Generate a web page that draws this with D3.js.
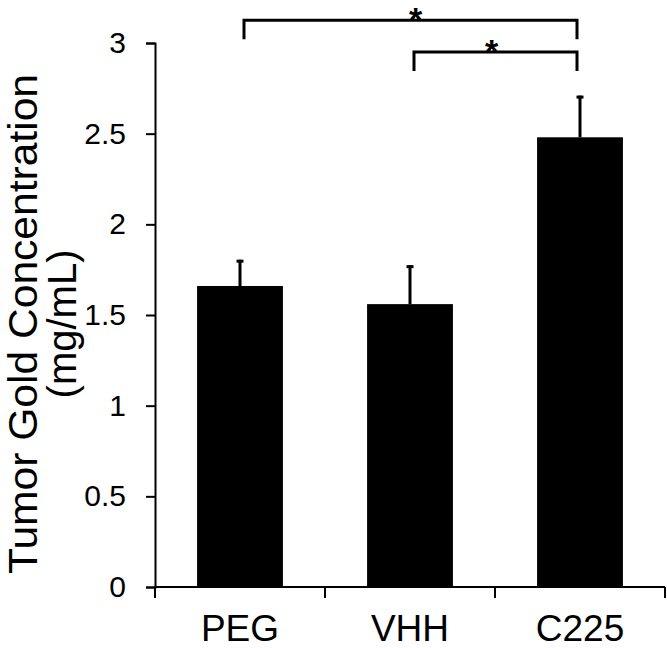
<!DOCTYPE html>
<html>
<head>
<meta charset="utf-8">
<script src="https://cdn.jsdelivr.net/npm/d3@7"></script>
<style>
  html, body { margin: 0; padding: 0; background: #fff; }
  svg { display: block; font-family: "Liberation Sans", Arial, sans-serif; }
</style>
</head>
<body>
<div id="chart"></div>
<script>
const categories = ['PEG', 'VHH', 'C225'];
const means = [1.66, 1.56, 2.48];
const errors = [0.145, 0.215, 0.23];
const yTicks = [0, 0.5, 1, 1.5, 2, 2.5, 3];
// significance brackets: pair of groups, height of the bar in data units
const sigPairs = [['PEG', 'C225'], ['VHH', 'C225']];
const sigLevels = [3.125, 2.95];
const sigLabels = ['*', '*'];

const width = 667;
const height = 648;

const svg = d3.select('#chart')
  .append('svg')
  .attr('width', width)
  .attr('height', height);

const x = d3.scaleBand()
  .domain(categories)
  .range([155, 665])
  .padding(0);

const y = d3.scaleLinear()
  .domain([0, 3])
  .range([587, 43]);

const data = categories.map((c, i) => ({ cat: c, mean: means[i], err: errors[i] }));
const barW = x.bandwidth() * 0.505;

// bars
svg.selectAll('rect.bar')
  .data(data)
  .enter()
  .append('rect')
  .attr('class', 'bar')
  .attr('x', d => x(d.cat) + (x.bandwidth() - barW) / 2)
  .attr('y', d => y(d.mean))
  .attr('width', barW)
  .attr('height', d => y(0) - y(d.mean))
  .attr('fill', '#000');

// error bars (upper only)
const cx = d => x(d.cat) + x.bandwidth() / 2;
svg.selectAll('line.err')
  .data(data)
  .enter()
  .append('line')
  .attr('x1', cx).attr('x2', cx)
  .attr('y1', d => y(d.mean))
  .attr('y2', d => y(d.mean + d.err))
  .attr('stroke', '#000')
  .attr('stroke-width', 3);

svg.selectAll('line.cap')
  .data(data)
  .enter()
  .append('line')
  .attr('x1', d => cx(d) - 3.5).attr('x2', d => cx(d) + 3.5)
  .attr('y1', d => y(d.mean + d.err) + 1.5)
  .attr('y2', d => y(d.mean + d.err) + 1.5)
  .attr('stroke', '#000')
  .attr('stroke-width', 3);

// y axis
const yAxis = d3.axisLeft(y)
  .tickValues(yTicks)
  .tickSize(9)
  .tickPadding(20)
  .tickFormat(d3.format('~g'));

const gy = svg.append('g')
  .attr('transform', `translate(${x.range()[0]},0)`)
  .call(yAxis);
gy.select('.domain').attr('stroke-width', 2);
gy.selectAll('.tick line').attr('stroke-width', 2);
gy.selectAll('.tick text')
  .attr('font-size', 30)
  .attr('font-family', '"Liberation Sans", Arial, sans-serif')
  .attr('fill', '#000');

// x axis with ticks at group boundaries
const xAxisG = svg.append('g').attr('transform', `translate(0,${y(0)})`);
xAxisG.append('line')
  .attr('x1', x.range()[0]).attr('x2', x.range()[1])
  .attr('y1', 0).attr('y2', 0)
  .attr('stroke', '#000').attr('stroke-width', 2);
const bounds = categories.map(c => x(c)).concat([x.range()[1]]);
xAxisG.selectAll('line.xt')
  .data(bounds)
  .enter()
  .append('line')
  .attr('x1', d => d).attr('x2', d => d)
  .attr('y1', 0).attr('y2', 11)
  .attr('stroke', '#000').attr('stroke-width', 2);
xAxisG.selectAll('text')
  .data(categories)
  .enter()
  .append('text')
  .attr('x', d => x(d) + x.bandwidth() / 2)
  .attr('y', 54)
  .attr('text-anchor', 'middle')
  .attr('font-size', 37)
  .text(d => d);

// y axis title
const title = svg.append('text')
  .attr('transform', `translate(0,${(y(0) + y(3)) / 2 + 9}) rotate(-90)`)
  .attr('text-anchor', 'middle')
  .attr('font-size', 40);
title.append('tspan').attr('x', 0).attr('y', 36.5)
  .attr('textLength', 500).attr('lengthAdjust', 'spacingAndGlyphs')
  .text('Tumor Gold Concentration');
title.append('tspan').attr('x', 0).attr('y', 76)
  .text('(mg/mL)');

// significance brackets
const drop = 19;
sigPairs.forEach((p, i) => {
  const x1 = x(p[0]) + x.bandwidth() / 2 + 4;
  const x2 = x(p[1]) + x.bandwidth() / 2 - 3;
  const yy = y(sigLevels[i]);
  svg.append('path')
    .attr('d', `M${x1},${yy + drop}V${yy}H${x2}V${yy + drop}`)
    .attr('fill', 'none')
    .attr('stroke', '#000')
    .attr('stroke-width', 3);
  svg.append('text')
    .attr('x', (x1 + x2) / 2 + (i === 0 ? 5 : -4))
    .attr('y', yy + 10.5)
    .attr('text-anchor', 'middle')
    .attr('font-size', 34)
    .attr('font-weight', 'bold')
    .text(sigLabels[i]);
});
</script>
</body>
</html>
